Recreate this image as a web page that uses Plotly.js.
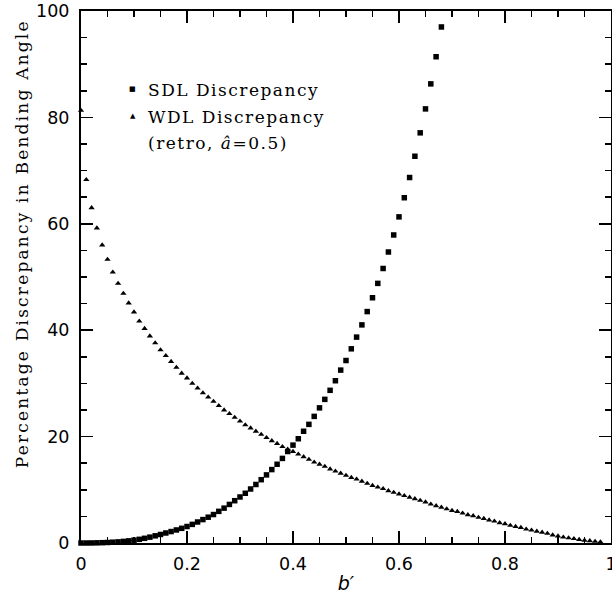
<!DOCTYPE html>
<html>
<head>
<meta charset="utf-8">
<script src="https://cdn.plot.ly/plotly-3.0.1.min.js"></script>
<style>
html,body{margin:0;padding:0;background:#fff;}
#chart{width:612px;height:602px;}
</style>
</head>
<body>
<div id="chart"></div>
<script>
// SDL discrepancy (squares)
const sdlX = [0.00,0.01,0.02,0.03,0.04,0.05,0.06,0.07,0.08,0.09,
  0.10,0.11,0.12,0.13,0.14,0.15,0.16,0.17,0.18,0.19,
  0.20,0.21,0.22,0.23,0.24,0.25,0.26,0.27,0.28,0.29,
  0.30,0.31,0.32,0.33,0.34,0.35,0.36,0.37,0.38,0.39,
  0.40,0.41,0.42,0.43,0.44,0.45,0.46,0.47,0.48,0.49,
  0.50,0.51,0.52,0.53,0.54,0.55,0.56,0.57,0.58,0.59,
  0.60,0.61,0.62,0.63,0.64,0.65,0.66,0.67,0.68];
const sdlY = [0.0,0.0,0.01,0.03,0.06,0.1,0.15,0.21,0.3,0.4,
  0.53,0.69,0.88,1.1,1.35,1.6,1.88,2.15,2.45,2.76,
  3.1,3.5,3.95,4.4,4.85,5.35,5.95,6.55,7.25,7.95,
  8.65,9.35,10.15,11.0,11.9,12.8,13.8,14.8,15.9,17.2,
  18.4,19.6,21.0,22.3,23.8,25.4,27.0,28.7,30.5,32.5,
  34.3,36.5,38.7,41.0,43.5,46.1,48.8,51.6,54.7,57.9,
  61.3,64.9,68.7,72.7,77.1,81.6,86.3,91.4,97.0];

// WDL discrepancy (triangles)
const wdlX = [0.00,0.01,0.02,0.03,0.04,0.05,0.06,0.07,0.08,0.09,
  0.10,0.11,0.12,0.13,0.14,0.15,0.16,0.17,0.18,0.19,
  0.20,0.21,0.22,0.23,0.24,0.25,0.26,0.27,0.28,0.29,
  0.30,0.31,0.32,0.33,0.34,0.35,0.36,0.37,0.38,0.39,
  0.40,0.41,0.42,0.43,0.44,0.45,0.46,0.47,0.48,0.49,
  0.50,0.51,0.52,0.53,0.54,0.55,0.56,0.57,0.58,0.59,
  0.60,0.61,0.62,0.63,0.64,0.65,0.66,0.67,0.68,0.69,
  0.70,0.71,0.72,0.73,0.74,0.75,0.76,0.77,0.78,0.79,
  0.80,0.81,0.82,0.83,0.84,0.85,0.86,0.87,0.88,0.89,
  0.90,0.91,0.92,0.93,0.94,0.95,0.96,0.97,0.98];
const wdlY = [81.3,68.3,63.0,59.2,56.0,53.3,50.9,48.8,46.9,45.1,
  43.4,41.7,40.3,38.9,37.6,36.3,35.2,34.1,33.0,31.9,
  31.0,30.0,29.1,28.2,27.4,26.6,25.8,25.0,24.3,23.6,
  22.9,22.2,21.6,21.0,20.4,19.8,19.2,18.7,18.1,17.6,
  17.2,16.7,16.2,15.7,15.2,14.8,14.4,13.9,13.5,13.1,
  12.7,12.3,12.0,11.6,11.2,10.8,10.5,10.2,9.8,9.5,
  9.2,8.9,8.6,8.3,8.0,7.7,7.3,7.0,6.7,6.4,
  6.1,5.9,5.6,5.3,5.1,4.8,4.6,4.3,4.1,3.8,
  3.6,3.3,3.1,2.9,2.6,2.4,2.2,2.0,1.8,1.5,
  1.3,1.1,0.95,0.8,0.65,0.5,0.4,0.3,0.2];

const xTickVals = [0, 0.2, 0.4, 0.6, 0.8, 1];
const xTickText = ['0', '0.2', '0.4', '0.6', '0.8', '1'];
const yTickVals = [0, 20, 40, 60, 80, 100];
const yTickText = ['0', '20', '40', '60', '80', '100'];

const legendLines = ['SDL Discrepancy', 'WDL Discrepancy', '(retro, <i>â</i>=0.5)'];
const yTitle = 'Percentage Discrepancy in Bending Angle';

const serif = 'DejaVu Serif';
const sans = 'DejaVu Sans';
const serifSize = 17;

function spaced(txt, px) {
  return '<span style="letter-spacing:' + px + 'px">' + txt + '</span>';
}

const traces = [
  {x: sdlX, y: sdlY, type: 'scatter', mode: 'markers', name: legendLines[0],
   marker: {symbol: 'square', size: 5.5, color: '#000'}, cliponaxis: false},
  {x: wdlX, y: wdlY, type: 'scatter', mode: 'markers', name: legendLines[1],
   marker: {symbol: 'triangle-up', size: 5.5, color: '#000'}, cliponaxis: false}
];

const axisCommon = {
  showline: true, linecolor: '#000', linewidth: 2, mirror: 'ticks',
  ticks: 'inside', ticklen: 12, tickwidth: 1.5, tickcolor: '#000',
  showgrid: false, zeroline: false, ticklabeloverflow: 'allow',
  tickfont: {family: sans, size: 17.5, color: '#000'},
  minor: {ticks: 'inside', ticklen: 6, tickwidth: 1.5, tickcolor: '#000', showgrid: false}
};

const legendFont = {family: serif, size: serifSize, color: '#000'};

const layout = {
  width: 612, height: 602,
  margin: {l: 81, r: 1, t: 11, b: 59},
  paper_bgcolor: '#fff', plot_bgcolor: '#fff',
  showlegend: false,
  xaxis: Object.assign({}, axisCommon, {
    range: [0, 1], tickmode: 'array', tickvals: xTickVals, ticktext: xTickText,
    minor: Object.assign({}, axisCommon.minor, {dtick: 0.05, tick0: 0}),
    ticklabelstandoff: 4,
    title: {text: '<i>b′</i>', font: {family: sans, size: 19, color: '#000'}, standoff: 4}
  }),
  yaxis: Object.assign({}, axisCommon, {
    range: [0, 100], tickmode: 'array', tickvals: yTickVals, ticktext: yTickText,
    minor: Object.assign({}, axisCommon.minor, {dtick: 5, tick0: 0}),
    ticklabelstandoff: 6
  }),
  annotations: [
    {xref: 'paper', yref: 'paper', x: -0.111, y: 0.562, xanchor: 'center', yanchor: 'middle',
     textangle: -90, text: spaced(yTitle, 2.2), showarrow: false, font: legendFont},
    {xref: 'paper', yref: 'paper', x: 0.098, y: 0.853, xanchor: 'center', yanchor: 'middle',
     text: '■', showarrow: false, font: {family: sans, size: 7, color: '#000'}},
    {xref: 'paper', yref: 'paper', x: 0.098, y: 0.802, xanchor: 'center', yanchor: 'middle',
     text: '▲', showarrow: false, font: {family: sans, size: 7, color: '#000'}},
    {xref: 'paper', yref: 'paper', x: 0.1225, y: 0.852, xanchor: 'left', yanchor: 'middle', align: 'left',
     text: spaced(legendLines[0], 1.5), showarrow: false, font: legendFont},
    {xref: 'paper', yref: 'paper', x: 0.1225, y: 0.801, xanchor: 'left', yanchor: 'middle', align: 'left',
     text: spaced(legendLines[1], 1.5), showarrow: false, font: legendFont},
    {xref: 'paper', yref: 'paper', x: 0.1225, y: 0.752, xanchor: 'left', yanchor: 'middle', align: 'left',
     text: spaced(legendLines[2], 1.5), showarrow: false, font: legendFont}
  ]
};

Plotly.newPlot('chart', traces, layout, {staticPlot: true, displayModeBar: false});
</script>
</body>
</html>
